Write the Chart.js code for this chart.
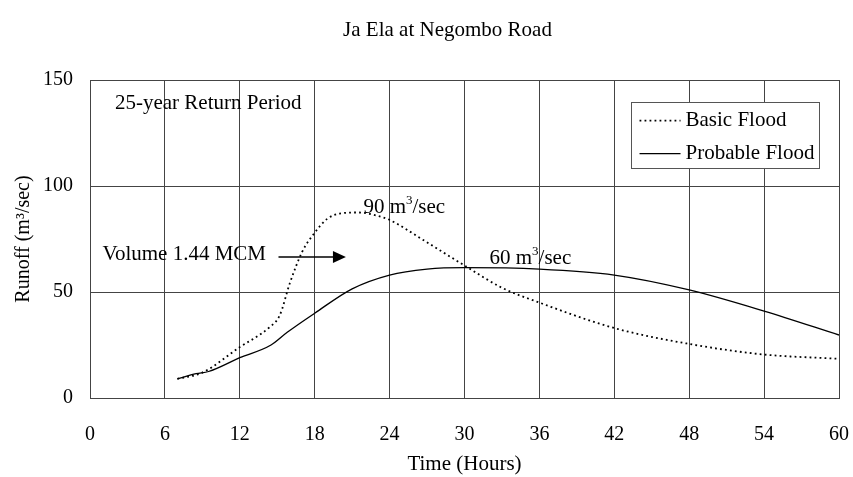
<!DOCTYPE html>
<html>
<head>
<meta charset="utf-8">
<script src="https://cdn.jsdelivr.net/npm/chart.js@4"></script>
<style>
  html, body { margin: 0; padding: 0; background: #fff; }
  #wrap { width: 853px; height: 477px; }
</style>
</head>
<body>
<div id="wrap"><canvas id="chartRunoff" width="853" height="477"></canvas></div>
<script>
// ---- data ----
const basicHours = [7, 9, 12, 14.4, 15.2, 16, 17, 18, 19, 20, 21.5, 23, 24, 26.7, 30, 33, 36, 42, 48, 54, 60];
const basicFlow  = [9, 12, 24, 33.5, 39, 54, 69, 78, 84.5, 87, 87.5, 86, 84, 74.5, 62.5, 52, 45, 33, 25.5, 20.5, 18.5];

const probableHours = [7, 8.5, 9.5, 12, 14.5, 15.8, 18, 21, 24, 27, 30, 36, 42, 48, 54, 60];
const probableFlow  = [9, 11.5, 12.5, 19, 25, 31, 40, 51.5, 58, 60.8, 61.5, 60.8, 58, 51, 41, 29.7];

const xTicks = [0, 6, 12, 18, 24, 30, 36, 42, 48, 54, 60];
const yTicks = [0, 50, 100, 150];

const chartTitle = "Ja Ela at Negombo Road";
const SERIF = "'Liberation Serif', 'Times New Roman', serif";
const GRID = "#444";

// ---- annotations / legend (value coordinates) ----
const notes = [
  { text: "25-year Return Period", x: 2.0, y: 139 },
  { text: "90 m", sup: "3", rest: "/sec", x: 21.9, y: 90 },
  { text: "Volume 1.44 MCM", x: 1.0, y: 67.5 },
  { text: "60 m", sup: "3", rest: "/sec", x: 32.0, y: 66 },
];
const arrow = { x0: 15.1, x1: 20.5, y: 66.5 };
const legendBox = { x0: 43.3, x1: 58.4, y0: 139.5, y1: 108.5 };

const toPoints = (xs, ys) => xs.map((x, i) => ({ x, y: ys[i] }));

const annotationPlugin = {
  id: "annotations",
  afterDatasetsDraw(chart) {
    const { ctx, chartArea, scales: { x, y } } = chart;
    ctx.save();
    ctx.fillStyle = "#000";
    ctx.textBaseline = "middle";

    // title (sits a little left of the plot centre in the original)
    ctx.font = "21px " + SERIF;
    ctx.textAlign = "center";
    ctx.fillText(chartTitle, (chartArea.left + chartArea.right) / 2 - 17, 30);

    ctx.textAlign = "left";
    notes.forEach((n) => {
      let px = x.getPixelForValue(n.x);
      const py = y.getPixelForValue(n.y);
      ctx.font = "21px " + SERIF;
      ctx.fillText(n.text, px, py);
      if (n.sup) {
        px += ctx.measureText(n.text).width;
        ctx.font = "13px " + SERIF;
        ctx.fillText(n.sup, px, py - 7);
        px += ctx.measureText(n.sup).width;
        ctx.font = "21px " + SERIF;
        ctx.fillText(n.rest, px, py);
      }
    });

    // arrow
    const ax0 = x.getPixelForValue(arrow.x0);
    const ax1 = x.getPixelForValue(arrow.x1);
    const ay = y.getPixelForValue(arrow.y);
    ctx.strokeStyle = "#000";
    ctx.lineWidth = 1.3;
    ctx.beginPath();
    ctx.moveTo(ax0, ay);
    ctx.lineTo(ax1 - 10, ay);
    ctx.stroke();
    ctx.beginPath();
    ctx.moveTo(ax1, ay);
    ctx.lineTo(ax1 - 13, ay - 6);
    ctx.lineTo(ax1 - 13, ay + 6);
    ctx.closePath();
    ctx.fill();

    // legend box
    const lx0 = x.getPixelForValue(legendBox.x0);
    const lx1 = x.getPixelForValue(legendBox.x1);
    const ly0 = y.getPixelForValue(legendBox.y0);
    const ly1 = y.getPixelForValue(legendBox.y1);
    ctx.fillStyle = "#fff";
    ctx.fillRect(lx0, ly0, lx1 - lx0, ly1 - ly0);
    ctx.strokeStyle = "#555";
    ctx.lineWidth = 1;
    ctx.strokeRect(Math.round(lx0) + 0.5, Math.round(ly0) + 0.5, Math.round(lx1 - lx0), Math.round(ly1 - ly0));

    ctx.font = "21px " + SERIF;
    const rowH = (ly1 - ly0) / 2;
    chart.data.datasets.forEach((ds, i) => {
      const cy = ly0 + rowH * (i + 0.5) + 2;
      ctx.strokeStyle = ds.borderColor;
      ctx.lineWidth = ds.borderWidth;
      ctx.setLineDash(ds.borderDash || []);
      ctx.beginPath();
      ctx.moveTo(lx0 + 9, cy);
      ctx.lineTo(lx0 + 50, cy);
      ctx.stroke();
      ctx.setLineDash([]);
      ctx.fillStyle = "#000";
      ctx.fillText(ds.label, lx0 + 55, cy);
    });
    ctx.restore();
  },
};

new Chart(document.getElementById("chartRunoff").getContext("2d"), {
  type: "line",
  data: {
    datasets: [
      {
        label: "Basic Flood",
        data: toPoints(basicHours, basicFlow),
        borderColor: "#000",
        borderWidth: 1.8,
        borderDash: [1.8, 3.2],
        pointRadius: 0,
        cubicInterpolationMode: "monotone",
        fill: false,
      },
      {
        label: "Probable Flood",
        data: toPoints(probableHours, probableFlow),
        borderColor: "#000",
        borderWidth: 1.3,
        pointRadius: 0,
        cubicInterpolationMode: "monotone",
        fill: false,
      },
    ],
  },
  options: {
    responsive: false,
    animation: false,
    layout: { padding: { left: 0, right: 14, top: 80, bottom: 0 } },
    plugins: {
      legend: { display: false },
      tooltip: { enabled: false },
      title: { display: false },
    },
    scales: {
      x: {
        type: "linear",
        min: 0,
        max: 60,
        afterBuildTicks: (s) => { s.ticks = xTicks.map((v) => ({ value: v })); },
        afterFit: (s) => { s.height = 79; s.paddingLeft = 0; s.paddingRight = 0; },
        grid: { color: GRID, drawTicks: false },
        border: { color: GRID },
        ticks: { color: "#000", padding: 25, font: { family: SERIF, size: 20 } },
        title: {
          display: true,
          text: "Time (Hours)",
          color: "#000",
          font: { family: SERIF, size: 21 },
          padding: { top: 0, bottom: 0 },
        },
      },
      y: {
        min: 0,
        max: 150,
        afterBuildTicks: (s) => { s.ticks = yTicks.map((v) => ({ value: v })); },
        afterFit: (s) => { s.width = 90; },
        grid: { color: GRID, drawTicks: false },
        border: { color: GRID },
        ticks: { color: "#000", padding: 17, font: { family: SERIF, size: 20 } },
        title: {
          display: true,
          text: "Runoff (m³/sec)",
          color: "#000",
          font: { family: SERIF, size: 20 },
          padding: { top: 12, bottom: 0 },
        },
      },
    },
  },
  plugins: [annotationPlugin],
});
</script>
</body>
</html>
